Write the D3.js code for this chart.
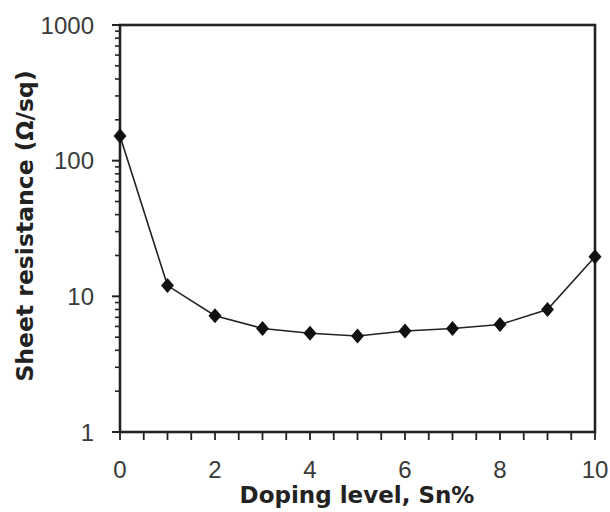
<!DOCTYPE html>
<html><head><meta charset="utf-8">
<script src="https://cdn.jsdelivr.net/npm/d3@7"></script>
<style>body{margin:0;background:#fff}</style>
</head><body>
<svg id="c" width="610" height="512"></svg>
<script>
const doping = [0,1,2,3,4,5,6,7,8,9,10];
const resistance = [152,12,7.2,5.8,5.35,5.1,5.55,5.8,6.2,8.0,19.6];
const xTicks = [0,2,4,6,8,10];
const yTicks = [1,10,100,1000];
const xTitle = "Doping level, Sn%";
const yTitle = "Sheet resistance (\u03A9/sq)";

const svg = d3.select("#c");
const L=120,R=595,T=25,B=432;
const x = d3.scaleLinear().domain([0,10]).range([L,R]);
const y = d3.scaleLog().domain([1,1000]).range([B,T]);
const ink="#222";

// minor y ticks
const minor=[];
for(let d=1;d<1000;d*=10) for(let k=2;k<=9;k++) minor.push(d*k);
svg.append("g").selectAll("line").data(minor).join("line")
  .attr("x1",L-5).attr("x2",L).attr("y1",d=>y(d)).attr("y2",d=>y(d))
  .attr("stroke",ink).attr("stroke-width",1.6);
svg.append("g").selectAll("line").data(yTicks).join("line")
  .attr("x1",L-8).attr("x2",L).attr("y1",d=>y(d)).attr("y2",d=>y(d))
  .attr("stroke",ink).attr("stroke-width",2);
// x ticks every 0.5
svg.append("g").selectAll("line").data(d3.range(0,10.01,0.5)).join("line")
  .attr("x1",d=>x(d)).attr("x2",d=>x(d)).attr("y1",B).attr("y2",B+8)
  .attr("stroke",ink).attr("stroke-width",1.8);

// frame
svg.append("rect").attr("x",L).attr("y",T).attr("width",R-L).attr("height",B-T)
  .attr("fill","none").attr("stroke",ink).attr("stroke-width",2.6);

// tick labels
svg.append("g").selectAll("text").data(yTicks).join("text")
  .attr("x",94).attr("y",d=>y(d)).attr("dy","0.36em").attr("text-anchor","end")
  .attr("font-family","Liberation Sans, Arial, sans-serif").attr("font-size",24)
  .attr("fill","#3a3a3a").text(d=>d);
svg.append("g").selectAll("text").data(xTicks).join("text")
  .attr("x",d=>x(d)).attr("y",478).attr("text-anchor","middle")
  .attr("font-family","Liberation Sans, Arial, sans-serif").attr("font-size",24)
  .attr("fill","#3a3a3a").text(d=>d);

// titles
svg.append("text").attr("x",357).attr("y",503).attr("text-anchor","middle")
  .attr("font-family","DejaVu Sans, Verdana, sans-serif").attr("font-weight","bold")
  .attr("font-size",23).attr("fill",ink).text(xTitle);
svg.append("text").attr("transform","translate(33,226) rotate(-90)").attr("text-anchor","middle")
  .attr("font-family","DejaVu Sans, Verdana, sans-serif").attr("font-weight","bold")
  .attr("font-size",23.5).attr("fill",ink).text(yTitle);

// data line
const pts = doping.map((d,i)=>[d,resistance[i]]);
svg.append("path").datum(pts)
  .attr("d",d3.line().x(d=>x(d[0])).y(d=>y(d[1])))
  .attr("fill","none").attr("stroke",ink).attr("stroke-width",1.6);
svg.append("g").selectAll("path").data(pts).join("path")
  .attr("transform",d=>`translate(${x(d[0])},${y(d[1])})`)
  .attr("d","M0,-7.5L6.5,0L0,7.5L-6.5,0Z").attr("fill","#111");
</script>
</body></html>
